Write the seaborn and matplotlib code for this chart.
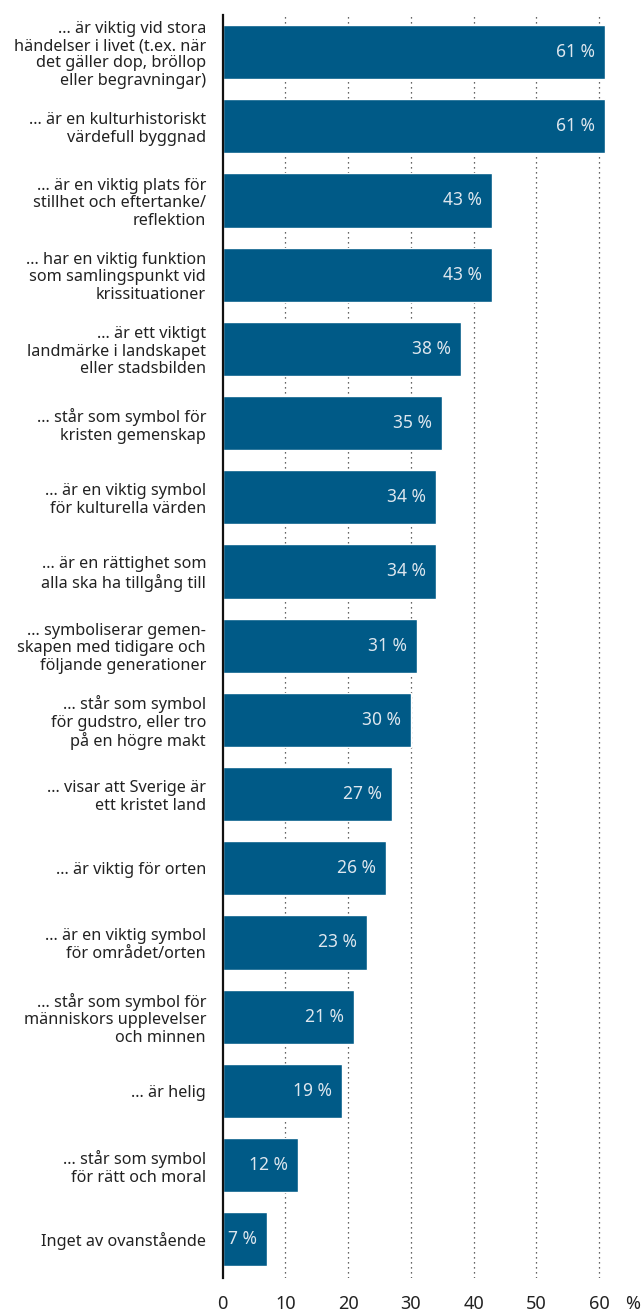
import pandas as pd
import matplotlib.pyplot as plt
import seaborn as sns

# Data
labels = [
    '... är viktig vid stora\nhändelser i livet (t.ex. när\ndet gäller dop, bröllop\neller begravningar)',
    '... är en kulturhistoriskt\nvärdefull byggnad',
    '... är en viktig plats för\nstillhet och eftertanke/\nreflektion',
    '... har en viktig funktion\nsom samlingspunkt vid\nkrissituationer',
    '... är ett viktigt\nlandmärke i landskapet\neller stadsbilden',
    '... står som symbol för\nkristen gemenskap',
    '... är en viktig symbol\nför kulturella värden',
    '... är en rättighet som\nalla ska ha tillgång till',
    '... symboliserar gemen-\nskapen med tidigare och\nföljande generationer',
    '... står som symbol\nför gudstro, eller tro\npå en högre makt',
    '... visar att Sverige är\nett kristet land',
    '... är viktig för orten',
    '... är en viktig symbol\nför området/orten',
    '... står som symbol för\nmänniskors upplevelser\noch minnen',
    '... är helig',
    '... står som symbol\nför rätt och moral',
    'Inget av ovanstående',
]
values = [61, 61, 43, 43, 38, 35, 34, 34, 31, 30, 27, 26, 23, 21, 19, 12, 7]
ticks = [0, 10, 20, 30, 40, 50, 60]

df = pd.DataFrame({'label': labels, 'value': values})

sns.set_style('white')
plt.rcParams['font.family'] = ['Noto Sans', 'DejaVu Sans']

fig = plt.figure(figsize=(6.42, 13.12), dpi=100)
ax = fig.add_axes([0.347, 0.026, 0.635, 0.9626])

bar_color = '#005a87'
sns.barplot(data=df, x='value', y='label', color=bar_color, width=0.73,
            saturation=1, ax=ax, zorder=3)

ax.set_xlim(0, 65)
ax.set_ylim(16.52, -0.5)

# dotted gridlines, not at zero
for t in ticks[1:]:
    ax.axvline(t, color='#333333', linestyle=(0, (1, 3)), linewidth=0.9, zorder=1)

# value labels inside bars
for i, v in enumerate(values):
    ax.text(v - 1.6, i, f'{v} %', ha='right', va='center', color='#dde6ee',
            fontsize=12.5, zorder=4)

ax.set_xticks(ticks)
ax.set_xticklabels([str(t) for t in ticks], fontsize=13, color='#222222')
ax.tick_params(axis='x', length=0, pad=12)
ax.tick_params(axis='y', length=0, pad=12)
ax.set_yticks(range(len(labels)))
ax.set_yticklabels(labels, fontsize=11.7, color='#222222', linespacing=1.12)
for lab in ax.get_yticklabels():
    lab.set_horizontalalignment('right')
    lab.set_multialignment('right')

# unit label at the end of the x axis
ax.annotate('%', xy=(65.4, 0), xycoords=ax.get_xaxis_transform(),
            xytext=(0, -12), textcoords='offset points', ha='center', va='top',
            fontsize=13, color='#222222')

ax.set_xlabel('')
ax.set_ylabel('')
for s in ['top', 'right', 'bottom']:
    ax.spines[s].set_visible(False)
ax.spines['left'].set_color('#111111')
ax.spines['left'].set_linewidth(1.6)
ax.spines['left'].set_zorder(5)

fig.savefig('out.png', dpi=100)
